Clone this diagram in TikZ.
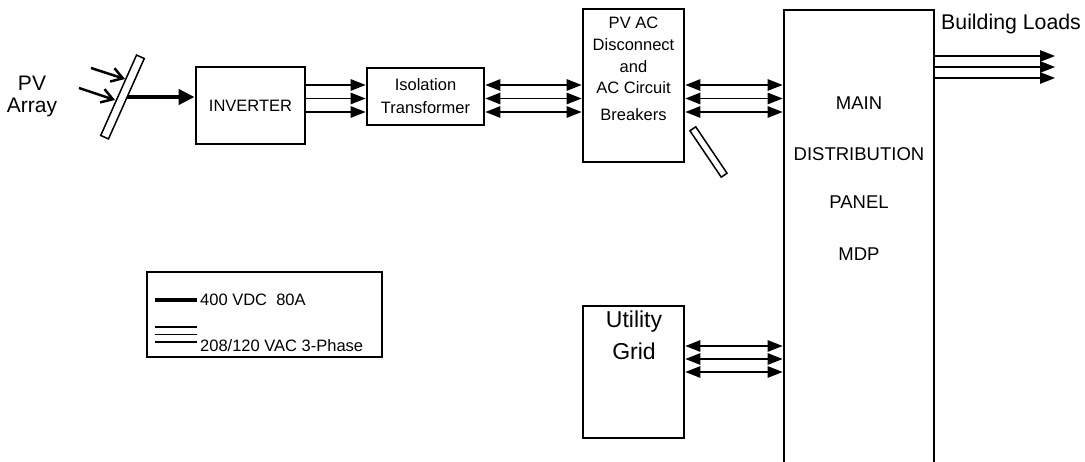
\documentclass[tikz,border=0pt]{standalone}
\usepackage{fontspec}
\setmainfont{Liberation Sans}
\usetikzlibrary{arrows.meta}
\begin{document}
\begin{tikzpicture}[x=1pt,y=-1pt,
  box/.style={draw,line width=2.8pt,fill=white,inner sep=0pt},
  txt/.style={inner sep=0pt,align=center},
  fs/.style={font=\fontsize{16.5}{19}\selectfont},
  ac/.style={line width=1.3pt,-{Triangle[length=15pt,width=11.5pt]}},
  acb/.style={line width=1.3pt,{Triangle[length=15pt,width=11.5pt]}-{Triangle[length=15pt,width=11.5pt]}},
  dc/.style={line width=4pt,-{Triangle[length=16pt,width=15pt]}},
  sun/.style={line width=2.5pt,-{Straight Barb[length=11pt,width=14pt]}},
  slab/.style={draw,line width=1.5pt,fill=white,inner sep=0pt}]
\useasboundingbox (0,0) rectangle (1085,462);
\clip (0,0) rectangle (1085,462);
% y levels
\coordinate (y1) at (0,85);
\coordinate (y2) at (0,98.5);
\coordinate (y3) at (0,112);
\coordinate (u1) at (0,346);
\coordinate (u2) at (0,359);
\coordinate (u3) at (0,372);
\coordinate (b1) at (0,56);
\coordinate (b2) at (0,67);
\coordinate (b3) at (0,78);
% PV array
\node[txt,font=\fontsize{21}{23}\selectfont] (pvlabel) at (32,96) {PV\\[-1pt]Array};
\coordinate (pc) at (122.5,97);
\coordinate (s1a) at (91,68);
\coordinate (s1b) at (125,79);
\coordinate (s2a) at (79,88);
\coordinate (s2b) at (115,100);
% boxes
\node[box,minimum width=109pt,minimum height=77pt] (inv) at (250.5,105.5) {};
\node[txt,fs] (invt) at (250.5,106) {INVERTER};
\node[box,minimum width=117pt,minimum height=57pt] (iso) at (425.5,96.5) {};
\node[txt,fs] (isot1) at (425.5,85) {Isolation};
\node[txt,fs] (isot2) at (425.5,107.5) {Transformer};
\node[box,minimum width=101pt,minimum height=153pt] (pvac) at (633.5,85.5) {};
\node[txt,fs] (pvt1) at (633.5,23) {PV AC};
\node[txt,fs] (pvt2) at (633.5,45) {Disconnect};
\node[txt,fs] (pvt3) at (633.5,67) {and};
\node[txt,fs] (pvt4) at (633.5,88) {AC Circuit};
\node[txt,fs] (pvt5) at (633.5,115) {Breakers};
\node[slab,minimum width=56pt,minimum height=7pt,rotate=-56] (brk) at (708.5,152) {};
\node[box,minimum width=101pt,minimum height=132pt] (util) at (633.5,372) {};
\node[txt,font=\fontsize{23}{25}\selectfont] (ut1) at (634,322) {Utility};
\node[txt,font=\fontsize{23}{25}\selectfont] (ut2) at (634,351) {Grid};
\node[box,minimum width=150pt,minimum height=480pt] (mdp) at (859,250) {};
\node[txt,font=\fontsize{18.5}{21}\selectfont] (m1) at (859,103) {MAIN};
\node[txt,font=\fontsize{18.5}{21}\selectfont] (m2) at (859,154) {DISTRIBUTION};
\node[txt,font=\fontsize{18.5}{21}\selectfont] (m3) at (859,202) {PANEL};
\node[txt,font=\fontsize{18.5}{21}\selectfont] (m4) at (859,254) {MDP};
\node[txt,font=\fontsize{21.3}{23}\selectfont,anchor=west] (bl) at (941,24) {Building Loads};
% connectors
\draw[dc] (pc) -- (inv.west |- pc);
\node[slab,minimum width=88pt,minimum height=8.5pt,rotate=66] (panel) at (pc) {};
\draw[sun] (s1a) -- (s1b);
\draw[sun] (s2a) -- (s2b);
\foreach \y in {y1,y2,y3}{
  \draw[ac] (inv.east |- \y) -- (iso.west |- \y);
  \draw[acb] (iso.east |- \y) -- (pvac.west |- \y);
  \draw[acb] (pvac.east |- \y) -- (mdp.west |- \y);
}
\foreach \y in {u1,u2,u3}{
  \draw[acb] (util.east |- \y) -- (mdp.west |- \y);
}
\coordinate (bend) at (1055,0);
\foreach \y in {b1,b2,b3}{
  \draw[ac] (mdp.east |- \y) -- (bend |- \y);
}
% legend
\node[draw,line width=1.5pt,minimum width=235pt,minimum height=85pt,inner sep=0pt] (leg) at (264.5,314.5) {};
\coordinate (l0a) at (155,300);
\coordinate (l0b) at (197,300);
\draw[line width=4pt] (l0a) -- (l0b);
\node[txt,fs,anchor=west] (lt1) at (200,300) {400 VDC\ \ 80A};
\coordinate (l1a) at (155,327);
\coordinate (l1b) at (197,327);
\coordinate (l2a) at (155,334.5);
\coordinate (l2b) at (197,334.5);
\coordinate (l3a) at (155,342);
\coordinate (l3b) at (197,342);
\draw[line width=1.3pt] (l1a) -- (l1b);
\draw[line width=1.3pt] (l2a) -- (l2b);
\draw[line width=1.3pt] (l3a) -- (l3b);
\node[txt,fs,anchor=west] (lt2) at (200,346) {208/120 VAC 3-Phase};
\end{tikzpicture}
\end{document}
